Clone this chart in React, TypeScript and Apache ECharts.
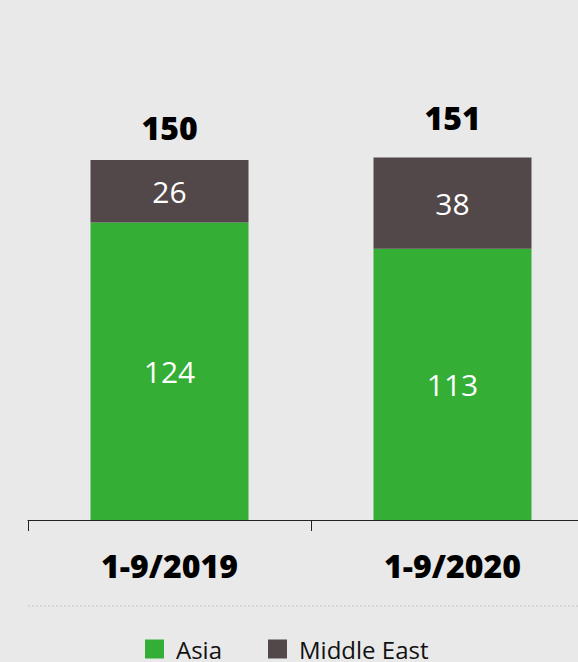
import React, { useEffect, useRef } from "react";
import * as echarts from "echarts";

const categories = ["1-9/2019", "1-9/2020"];
const asia = [124, 113];
const middleEast = [26, 38];
const totals = [150, 151];
const totalLabelDistance = [17, 24];

const GREEN = "#34ae35";
const DARK = "#524849";
const FONT = "'Open Sans', 'Noto Sans', sans-serif";

export default function App() {
  const ref = useRef<HTMLDivElement>(null);
  useEffect(() => {
    if (!ref.current) return;
    const chart = echarts.init(ref.current, null, { renderer: "svg" });
    chart.setOption({
      animation: false,
      backgroundColor: "#e9e9e9",
      grid: { left: 28, width: 566, top: 40, height: 480 },
      legend: {
        data: ["Asia", "Middle East"],
        left: 145,
        top: 637,
        padding: 0,
        itemWidth: 19,
        itemHeight: 19,
        itemGap: 46,
        icon: "rect",
        textStyle: {
          fontFamily: FONT,
          fontSize: 24,
          color: "#111",
          padding: [0, 0, 0, 7],
        },
      },
      xAxis: {
        type: "category",
        data: categories,
        axisLine: { lineStyle: { color: "#222", width: 1 } },
        axisTick: { show: true, length: 11, lineStyle: { color: "#222" } },
        axisLabel: {
          margin: 29,
          fontFamily: FONT,
          fontSize: 32,
          fontWeight: 800,
          color: "#000",
        },
      },
      yAxis: { type: "value", min: 0, max: 200, show: false, splitLine: { show: false } },
      graphic: [
        {
          type: "line",
          shape: { x1: 28, y1: 606, x2: 578, y2: 606 },
          style: { stroke: "#c4c4c4", lineWidth: 1, lineDash: [2, 2] },
        },
      ],
      series: [
        {
          name: "Asia",
          type: "bar",
          stack: "s",
          barWidth: 158,
          data: asia,
          itemStyle: { color: GREEN },
          label: { show: true, position: "inside", color: "#fff", fontFamily: FONT, fontSize: 30 },
        },
        {
          name: "Middle East",
          type: "bar",
          stack: "s",
          barWidth: 158,
          data: middleEast,
          itemStyle: { color: DARK },
          label: { show: true, position: "inside", color: "#fff", fontFamily: FONT, fontSize: 30 },
        },
        {
          name: "total",
          type: "bar",
          stack: "s",
          barWidth: 158,
          data: totals.map((t, i) => ({
            value: 0,
            label: {
              show: true,
              position: "top",
              distance: totalLabelDistance[i],
              formatter: () => String(t),
            },
          })),
          itemStyle: { color: "transparent" },
          label: {
            show: true,
            position: "top",
            color: "#000",
            fontFamily: FONT,
            fontSize: 32,
            fontWeight: 800,
          },
        },
      ],
    });
    return () => chart.dispose();
  }, []);
  return (
    <div
      style={{
        position: "fixed",
        left: 0,
        top: 0,
        width: 578,
        height: 662,
        overflow: "hidden",
        background: "#e9e9e9",
      }}
    >
      <div ref={ref} style={{ width: 600, height: 662 }} />
    </div>
  );
}
